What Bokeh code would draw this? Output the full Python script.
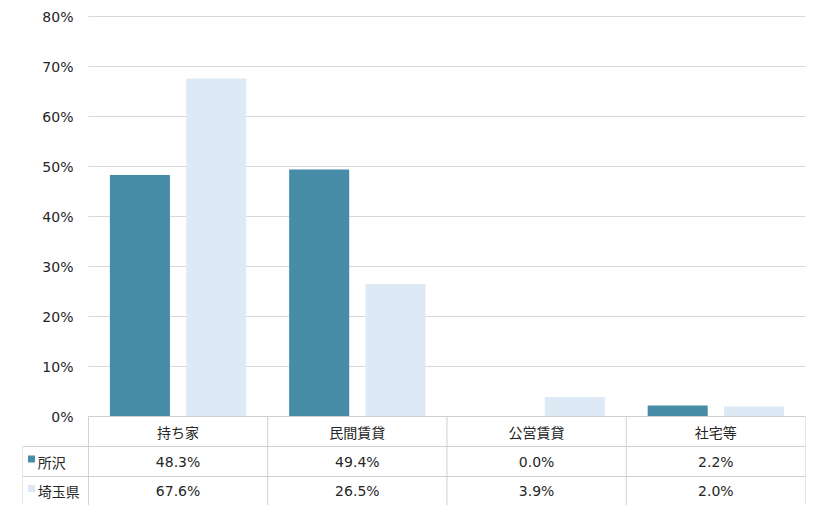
from bokeh.plotting import figure
from bokeh.models import Range1d, FixedTicker, PrintfTickFormatter, LinearAxis, Grid
from bokeh.core.properties import value
from bokeh.embed import file_html
from bokeh.resources import INLINE

categories = ["持ち家", "民間賃貸", "公営賃貸", "社宅等"]
series_names = ["所沢", "埼玉県"]
tokorozawa = [48.3, 49.4, 0.0, 2.2]
saitama = [67.6, 26.5, 3.9, 2.0]
y_ticks = [0, 10, 20, 30, 40, 50, 60, 70, 80]

colors = ["#468CA6", "#DDE9F5"]
grid_color = "#D9D9D9"
table_color = "#D0D0D0"
text_color = "#262626"
jp_font = "Noto Sans CJK JP"
num_font = "DejaVu Sans"

n = len(categories)
row_h = 6.0
y_bottom = -17.8
y_top = 82
left_col = -0.368

p = figure(frame_width=783, frame_height=499, output_backend="svg", toolbar_location=None,
           x_range=Range1d(left_col, n), y_range=Range1d(y_bottom, y_top),
           x_axis_type=None, y_axis_type=None,
           min_border_left=22, min_border_right=7, min_border_top=6, min_border_bottom=0)
p.outline_line_color = None
p.background_fill_color = "white"

# y axis drawn at x=0 (left edge of chart area)
ticker = FixedTicker(ticks=y_ticks)
yaxis = LinearAxis(ticker=ticker, formatter=PrintfTickFormatter(format="%d%%"))
yaxis.fixed_location = 0
yaxis.axis_line_color = None
yaxis.major_tick_line_color = None
yaxis.minor_tick_line_color = None
yaxis.major_tick_out = 0
yaxis.major_label_standoff = 15
yaxis.major_label_text_font = num_font
yaxis.major_label_text_font_size = "14px"
yaxis.major_label_text_color = text_color
p.add_layout(yaxis, "left")

grid = Grid(dimension=1, ticker=ticker, grid_line_color=grid_color, cross_bounds=(0, n))
p.add_layout(grid)

centers = [i + 0.5 for i in range(n)]
off = 0.213
bw = 0.335
p.vbar(x=[c - off for c in centers], top=tokorozawa, bottom=0, width=bw, color=colors[0], line_color=None)
p.vbar(x=[c + off for c in centers], top=saitama, bottom=0, width=bw, color=colors[1], line_color=None)

# table borders
hx0 = [0, left_col, left_col, left_col]
hx1 = [n, n, n, n]
hy = [0, -row_h, -2 * row_h, y_bottom]
p.segment(x0=hx0, y0=hy, x1=hx1, y1=hy, line_color=table_color, line_width=1)
vx = [left_col] + list(range(n + 1))
vy0 = [-row_h] + [0] * (n + 1)
p.segment(x0=vx, y0=vy0, x1=vx, y1=[y_bottom] * len(vx), line_color=table_color, line_width=1)

# header row
p.text(x=centers, y=[-row_h / 2] * n, text=categories, text_align="center", text_baseline="middle",
       text_font=value(jp_font), text_font_size="14px", text_color=text_color)

# value rows
row_y = [-row_h * 1.5, (-2 * row_h + y_bottom) / 2]
for vals, ry in zip([tokorozawa, saitama], row_y):
    p.text(x=centers, y=[ry] * n, text=[f"{v:.1f}%" for v in vals], text_align="center",
           text_baseline="middle", text_font=value(num_font), text_font_size="14px", text_color=text_color)

# row headers with colour keys
p.scatter(x=[left_col + 0.05] * 2, y=[r + 0.5 for r in row_y], marker="square", size=7,
          color=colors, line_color=None)
p.text(x=[left_col + 0.085] * 2, y=row_y, text=series_names, text_align="left", text_baseline="middle",
       text_font=value(jp_font), text_font_size="14px", text_color=text_color)

open("out.html", "w").write(file_html(p, INLINE))
